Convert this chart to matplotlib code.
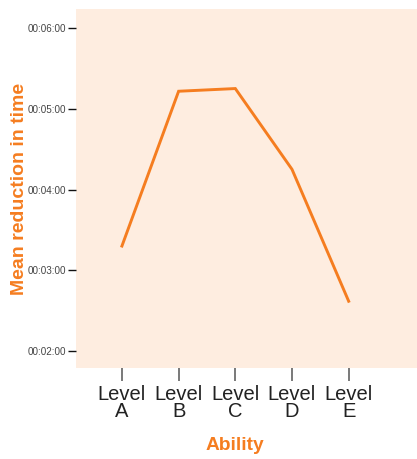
import matplotlib
matplotlib.use("Agg")
import matplotlib.pyplot as plt
from matplotlib.ticker import FuncFormatter

categories = ["Level\nA", "Level\nB", "Level\nC", "Level\nD", "Level\nE"]
mean_reduction_s = [198, 313, 315, 255, 157]
y_ticks_s = [120, 180, 240, 300, 360]

orange = "#F57D20"
bg = "#FEEDE0"
font = "Liberation Sans"

fig = plt.figure(figsize=(4.17, 4.59), dpi=100)
ax = fig.add_axes([76/417, 1-368/459, 1-76/417, (368-9)/459])
ax.set_facecolor(bg)
x = list(range(len(categories)))
ax.plot(x, mean_reduction_s, color=orange, lw=2.1, solid_joinstyle="miter")
ax.set_xlim(-0.81, 5.205)
ax.set_ylim(107.4, 374.1)
for s in ax.spines.values():
    s.set_visible(False)

def fmt(v, pos):
    v = int(round(v))
    return f"{v//3600:02d}:{(v%3600)//60:02d}:{v%60:02d}"

ax.set_yticks(y_ticks_s)
ax.yaxis.set_major_formatter(FuncFormatter(fmt))
ax.set_xticks(x)
ax.set_xticklabels(categories, linespacing=0.85)
ax.tick_params(axis="y", length=5.8, width=1.0, color="#111111", pad=1.4,
               labelsize=7.1, labelcolor="#444444")
ax.tick_params(axis="x", length=9.6, width=1.1, color="#555555", pad=3.0,
               labelsize=14.5, labelcolor="#222222")
for lab in ax.get_yticklabels() + ax.get_xticklabels():
    lab.set_fontfamily(font)

ax.set_ylabel("Mean reduction in time", color=orange, fontsize=14,
              fontweight="bold", fontfamily=font)
ax.set_xlabel("Ability", color=orange, fontsize=13.8, fontweight="bold",
              fontfamily=font)
ax.yaxis.set_label_coords(-0.141, 0.5)
ax.xaxis.set_label_coords(0.466, (368-437)/359)

fig.savefig("out.png", dpi=100)
